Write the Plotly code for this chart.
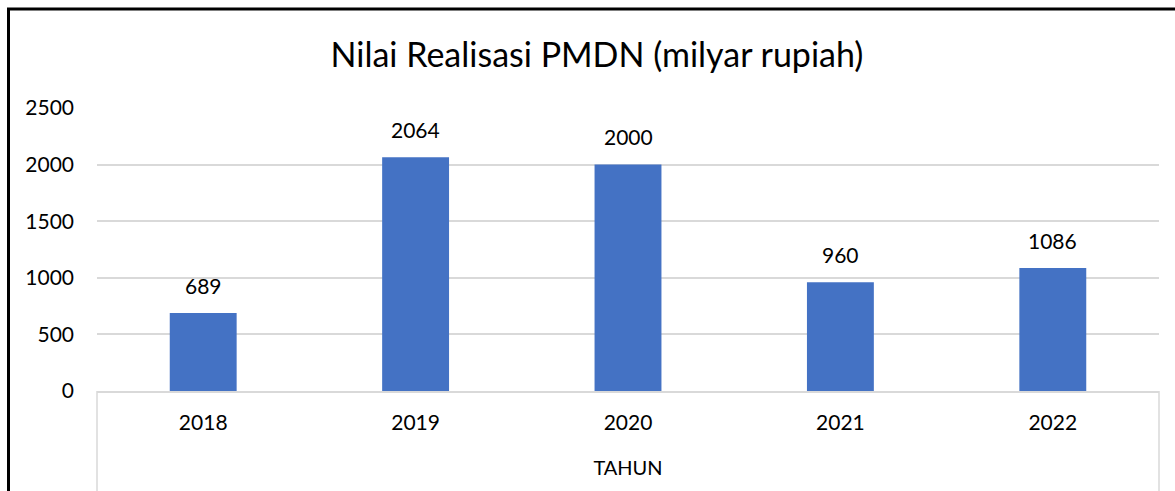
import plotly.graph_objects as go

# Realisasi PMDN per tahun (milyar rupiah)
years = ["2018", "2019", "2020", "2021", "2022"]
values = [689, 2064, 2000, 960, 1086]
y_ticks = [0, 500, 1000, 1500, 2000, 2500]

FONT = "Lato, 'Open Sans', sans-serif"
W, H = 1175, 491
ML, MR, MT, MB = 97, 16, 108, 100
plot_h = H - MT - MB

fig = go.Figure(
    go.Bar(
        x=years,
        y=values,
        marker=dict(color="#4472C4", line=dict(width=0)),
        width=0.315,
    )
)

# value labels above each bar (category axis: position by category index)
for i, v in enumerate(values):
    fig.add_annotation(
        x=i, y=v, text=str(v), showarrow=False,
        xanchor="center", yanchor="middle", yshift=28,
        font=dict(family=FONT, size=21, color="#000000"),
    )

# px -> paper helpers for decoration placed outside the plot area
def py(px_from_top):
    return (H - MB - px_from_top) / plot_h

def px(px_from_left):
    return (px_from_left - ML) / (W - ML - MR)

shapes = [
    # category-axis frame lines running down from the baseline
    dict(type="line", xref="paper", yref="paper", x0=0, x1=0, y0=0, y1=py(H + 5),
         line=dict(color="#D9D9D9", width=1.5)),
    dict(type="line", xref="paper", yref="paper", x0=1, x1=1, y0=0, y1=py(H + 5),
         line=dict(color="#D9D9D9", width=1.5)),
    # outer frame (left and top edges)
    dict(type="line", xref="paper", yref="paper", x0=px(8.5), x1=px(8.5), y0=py(8), y1=py(H + 5),
         line=dict(color="#000000", width=3)),
    dict(type="line", xref="paper", yref="paper", x0=px(7), x1=px(W + 5), y0=py(9), y1=py(9),
         line=dict(color="#000000", width=3)),
]

fig.update_layout(
    width=W,
    height=H,
    margin=dict(l=ML, r=MR, t=MT, b=MB),
    paper_bgcolor="white",
    plot_bgcolor="white",
    showlegend=False,
    font=dict(family=FONT, color="#000000"),
    title=dict(
        text="Nilai Realisasi PMDN (milyar rupiah)",
        x=597 / W,
        xanchor="center",
        y=1 - 55 / H,
        yanchor="middle",
        font=dict(family=FONT, size=34, color="#000000"),
    ),
    xaxis=dict(
        type="category",
        categoryorder="array",
        categoryarray=years,
        range=[-0.5, len(years) - 0.5],
        showgrid=False,
        showline=True,
        linecolor="#D9D9D9",
        linewidth=1.5,
        ticks="",
        tickfont=dict(family=FONT, size=21, color="#000000"),
        ticklabelstandoff=12,
        title=dict(text="TAHUN", font=dict(family=FONT, size=20, color="#000000"), standoff=28),
    ),
    yaxis=dict(
        range=[0, 2500],
        tickvals=y_ticks,
        ticktext=[str(t) for t in y_ticks],
        showgrid=True,
        gridcolor="#D9D9D9",
        gridwidth=1.5,
        zeroline=False,
        showline=False,
        ticks="",
        ticklabelstandoff=22,
        tickfont=dict(family=FONT, size=21, color="#000000"),
    ),
    shapes=shapes,
)

fig.write_html("out.html")
